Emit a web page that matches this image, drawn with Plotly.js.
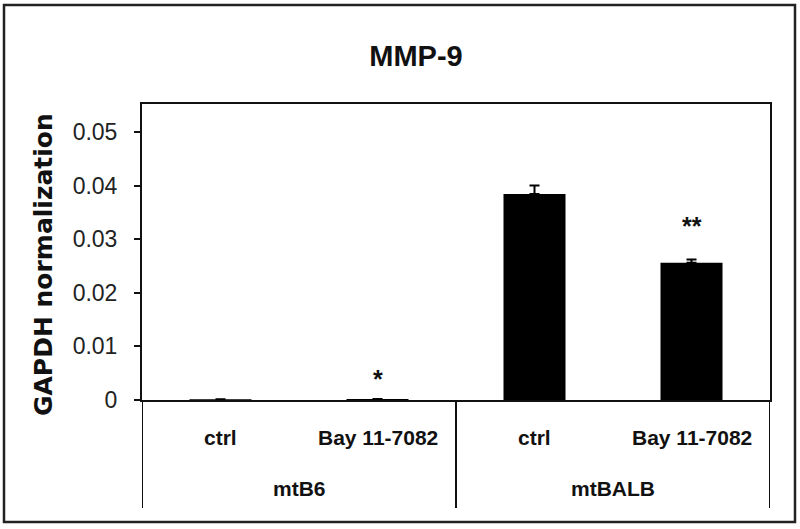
<!DOCTYPE html>
<html>
<head>
<meta charset="utf-8">
<script src="https://cdn.plot.ly/plotly-3.0.1.min.js"></script>
<style>
  body { margin: 0; background: #fff; }
  #chart { width: 800px; height: 529px; }
</style>
</head>
<body>
<div id="chart"></div>
<script>
// data
const treatments = ['ctrl', 'Bay 11-7082', 'ctrl', 'Bay 11-7082'];
const strains = ['mtB6', 'mtBALB'];
const values = [0.00012, 0.0002, 0.0384, 0.0256];
const errors = [0, 0, 0.0016, 0.0006];
const marks = ['', '*', '', '**'];
const yTicks = [0, 0.01, 0.02, 0.03, 0.04, 0.05];
const yTickText = ['0', '0.01', '0.02', '0.03', '0.04', '0.05'];

// plot box in pixels
const L = 142, R = 770, T = 104, B = 400, W = 800, H = 529;
function px(x) { return (x - L) / (R - L); }
function py(y) { return (B - y) / (B - T); }

const xs = treatments.map((t, i) => i);
const sans = 'Liberation Sans, Arial, sans-serif';

const trace = {
    type: 'bar',
    x: xs,
    y: values,
    width: 0.395,
    marker: { color: '#000', line: { width: 0 } },
    error_y: {
        type: 'data', symmetric: false,
        array: errors, arrayminus: errors.map(() => 0),
        color: '#000', thickness: 2, width: 5
    },
    hoverinfo: 'skip'
};

const annotations = [];

// treatment row
treatments.forEach((t, i) => {
    annotations.push({
        x: i, xref: 'x', y: py(437), yref: 'paper',
        text: t, showarrow: false, yanchor: 'middle',
        font: { family: sans, size: 21, color: '#111', weight: 'bold' }
    });
});

// strain row
strains.forEach((s, j) => {
    annotations.push({
        x: j * 2 + 0.5, xref: 'x', y: py(488), yref: 'paper',
        text: s, showarrow: false, yanchor: 'middle',
        font: { family: sans, size: 21, color: '#111', weight: 'bold' }
    });
});

// significance stars (the short bar's star sits closer to its bar)
const starLift = [0, 4, 0, 18];
marks.forEach((m, i) => {
    if (!m) return;
    annotations.push({
        x: i, xref: 'x', y: values[i] + errors[i], yref: 'y',
        text: m, showarrow: false, yanchor: 'bottom', yshift: starLift[i],
        font: { family: sans, size: 25, color: '#111', weight: 'bold' }
    });
});

// y axis title
annotations.push({
    x: px(43), xref: 'paper', y: py(265), yref: 'paper',
    text: 'GAPDH normalization', textangle: -90, showarrow: false,
    xanchor: 'center', yanchor: 'middle',
    font: { family: 'DejaVu Sans, Liberation Sans, sans-serif', size: 25, color: '#111', weight: 'bold' }
});

const lineStyle = { color: '#111', width: 2 };
const shapes = [
    // table lines under the axis
    { type: 'line', xref: 'x', yref: 'paper', x0: -0.5, x1: -0.5, y0: 0, y1: py(508), line: lineStyle },
    { type: 'line', xref: 'x', yref: 'paper', x0: 1.5, x1: 1.5, y0: 0, y1: py(508), line: lineStyle },
    { type: 'line', xref: 'x', yref: 'paper', x0: 3.5, x1: 3.5, y0: 0, y1: py(508), line: lineStyle },
    // outer frame
    { type: 'rect', xref: 'paper', yref: 'paper', x0: px(4), x1: px(795), y0: py(522), y1: py(5),
      line: { color: '#222', width: 2.5 } }
];

const layout = {
    width: W, height: H,
    margin: { l: L, r: W - R, t: T, b: H - B },
    paper_bgcolor: '#fff', plot_bgcolor: '#fff',
    showlegend: false,
    title: {
        text: 'MMP-9', x: 416 / W, xref: 'container', xanchor: 'center',
        y: 1 - 56 / H, yref: 'container', yanchor: 'middle',
        font: { family: sans, size: 29, color: '#111', weight: 'bold' }
    },
    xaxis: {
        range: [-0.5, 3.5], showticklabels: false, ticks: '',
        showgrid: false, zeroline: false,
        showline: true, linecolor: '#111', linewidth: 2, mirror: true
    },
    yaxis: {
        range: [0, 0.0552], tickvals: yTicks, ticktext: yTickText,
        ticks: 'outside', ticklen: 6, tickwidth: 2, tickcolor: '#111',
        ticklabelstandoff: 12,
        showgrid: false, zeroline: false,
        showline: true, linecolor: '#111', linewidth: 2, mirror: true,
        tickfont: { family: sans, size: 23, color: '#222' }
    },
    annotations: annotations,
    shapes: shapes
};

Plotly.newPlot('chart', [trace], layout, { staticPlot: true, displayModeBar: false });
</script>
</body>
</html>
